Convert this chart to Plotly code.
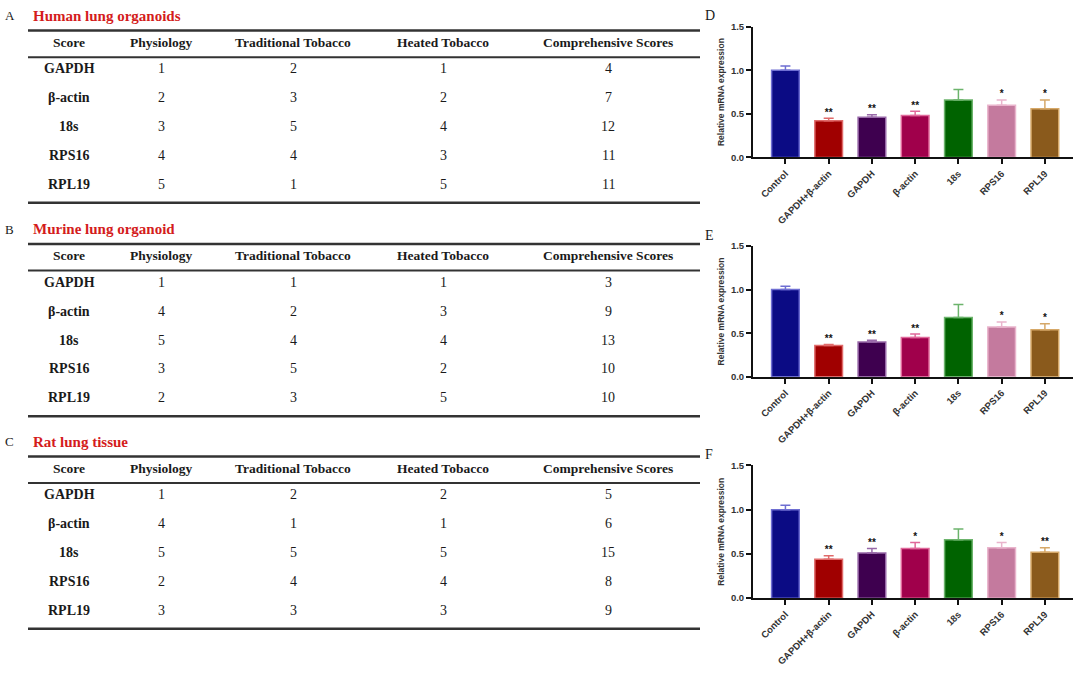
import plotly.graph_objects as go

W, H = 1080, 673

# ---------------- Table data ----------------
table_titles = ["Human lung organoids", "Murine lung organoid", "Rat lung tissue"]
table_letters = ["A", "B", "C"]
table_header = ["Score", "Physiology", "Traditional Tobacco", "Heated Tobacco", "Comprehensive Scores"]
genes = ["GAPDH", "β-actin", "18s", "RPS16", "RPL19"]
human_scores = [[1, 2, 1, 4], [2, 3, 2, 7], [3, 5, 4, 12], [4, 4, 3, 11], [5, 1, 5, 11]]
murine_scores = [[1, 1, 1, 3], [4, 2, 3, 9], [5, 4, 4, 13], [3, 5, 2, 10], [2, 3, 5, 10]]
rat_scores = [[1, 2, 2, 5], [4, 1, 1, 6], [5, 5, 5, 15], [2, 4, 4, 8], [3, 3, 3, 9]]
all_scores = [human_scores, murine_scores, rat_scores]

# ---------------- Bar chart data ----------------
bar_letters = ["D", "E", "F"]
categories = ["Control", "GAPDH+β-actin", "GAPDH", "β-actin", "18s", "RPS16", "RPL19"]
d_values = [1.00, 0.42, 0.46, 0.48, 0.66, 0.60, 0.56]
d_errors = [0.05, 0.03, 0.03, 0.05, 0.12, 0.06, 0.10]
d_sig = ["", "**", "**", "**", "", "*", "*"]
e_values = [1.00, 0.36, 0.40, 0.45, 0.68, 0.57, 0.54]
e_errors = [0.04, 0.01, 0.02, 0.04, 0.15, 0.06, 0.07]
e_sig = ["", "**", "**", "**", "", "*", "*"]
f_values = [1.00, 0.44, 0.51, 0.56, 0.66, 0.57, 0.52]
f_errors = [0.05, 0.04, 0.05, 0.07, 0.12, 0.06, 0.05]
f_sig = ["", "**", "**", "*", "", "*", "**"]
y_ticks = [0.0, 0.5, 1.0, 1.5]

bar_fill = ["#0b0b84", "#a00000", "#3e004f", "#a0004b", "#006300", "#c47a9e", "#8a5a1c"]
bar_edge = ["#6e6ed2", "#e06a6a", "#9868a8", "#e0689a", "#6cb46c", "#e9b4cc", "#d6a868"]

panels = [(d_values, d_errors, d_sig), (e_values, e_errors, e_sig), (f_values, f_errors, f_sig)]

fig = go.Figure()

def px(x):
    return x / W

def py(y):
    return 1 - y / H

annotations = []
shapes = []

# ---------------- Tables ----------------
col_x = [69, 161, 293, 443, 608]
table_top = [25, 242, 458]
serif = "Liberation Serif"
ink = "#1a1a1a"
for t in range(3):
    top = table_top[t]
    annotations.append(dict(x=px(3), y=py(top - 15), xref="paper", yref="paper", text=table_letters[t],
                            showarrow=False, xanchor="left", yanchor="middle",
                            font=dict(family=serif, size=13, color=ink)))
    annotations.append(dict(x=px(31), y=py(top - 15), xref="paper", yref="paper",
                            text="<b>" + table_titles[t] + "</b>",
                            showarrow=False, xanchor="left", yanchor="middle",
                            font=dict(family=serif, size=15, color="#d41c1c")))
    for yy, lw in [(top, 2.5), (top + 27, 2), (top + 175, 2.5)]:
        shapes.append(dict(type="line", xref="paper", yref="paper", x0=px(28), x1=px(700),
                           y0=py(yy), y1=py(yy), line=dict(color="#333", width=lw)))
    for c, h in enumerate(table_header):
        annotations.append(dict(x=px(col_x[c]), y=py(top + 12), xref="paper", yref="paper",
                                text="<b>" + h + "</b>", showarrow=False, xanchor="center", yanchor="middle",
                                font=dict(family=serif, size=13.5, color=ink)))
    for r, g in enumerate(genes):
        yy = top + 39 + r * 29.3
        annotations.append(dict(x=px(col_x[0]), y=py(yy), xref="paper", yref="paper",
                                text="<b>" + g + "</b>", showarrow=False, xanchor="center", yanchor="middle",
                                font=dict(family=serif, size=14, color=ink)))
        for c, v in enumerate(all_scores[t][r]):
            annotations.append(dict(x=px(col_x[c + 1]), y=py(yy), xref="paper", yref="paper",
                                    text=str(v), showarrow=False, xanchor="center", yanchor="middle",
                                    font=dict(family=serif, size=14, color=ink)))

# ---------------- Bar charts ----------------
y_zero = [154, 377, 602]
y_top = [21, 244, 467]
x_left, x_right = 753, 1073
for p in range(3):
    vals, errs, sig = panels[p]
    suffix = "" if p == 0 else str(p + 1)
    xa, ya = "x" + suffix, "y" + suffix
    for i, cat in enumerate(categories):
        fig.add_trace(go.Bar(
            x=[cat], y=[vals[i]], width=0.64, xaxis=xa, yaxis=ya,
            marker=dict(color=bar_fill[i], line=dict(color=bar_edge[i], width=1.5)),
            error_y=dict(type="data", array=[errs[i]], arrayminus=[0], symmetric=False,
                         color=bar_edge[i], thickness=1.5, width=5),
            showlegend=False, hoverinfo="skip"))
    fig.add_trace(go.Scatter(
        x=categories, y=[v + e for v, e in zip(vals, errs)], text=sig, mode="text",
        textposition="top center", textfont=dict(family="Arial", size=10, color="#111", weight="bold"),
        xaxis=xa, yaxis=ya, showlegend=False, hoverinfo="skip", cliponaxis=False))
    dom_x = [px(x_left), px(x_right)]
    dom_y = [py(y_zero[p]), py(y_top[p])]
    fig.layout["xaxis" + suffix] = dict(
        domain=dom_x, anchor=ya, type="category", range=[-0.75, 6.65],
        showline=True, linecolor="#111", linewidth=2, ticks="outside", ticklen=5, tickwidth=2,
        tickcolor="#111", tickangle=-45, showgrid=False, zeroline=False,
        tickfont=dict(family="Arial", size=9.5, color="#333", weight="bold"))
    fig.layout["yaxis" + suffix] = dict(
        domain=dom_y, anchor=xa, range=[0, 1.5], tickvals=y_ticks, tickformat=".1f",
        showline=True, linecolor="#111", linewidth=2, ticks="outside", ticklen=5, tickwidth=2,
        tickcolor="#111", showgrid=False, zeroline=False,
        tickfont=dict(family="Arial", size=9.5, color="#333", weight="bold"),
        title=dict(text="Relative mRNA expression", standoff=5,
                   font=dict(family="Arial", size=8.5, color="#333", weight="bold")))
    annotations.append(dict(x=px(703), y=py(y_top[p] - 11), xref="paper", yref="paper",
                            text=bar_letters[p], showarrow=False, xanchor="left", yanchor="middle",
                            font=dict(family=serif, size=14, color=ink)))

fig.update_layout(width=W, height=H, margin=dict(l=0, r=0, t=0, b=0),
                  paper_bgcolor="white", plot_bgcolor="white", barmode="overlay",
                  annotations=annotations, shapes=shapes)

fig.write_html("out.html", config={"displayModeBar": False},
               post_script="document.body.style.margin='0px';")
